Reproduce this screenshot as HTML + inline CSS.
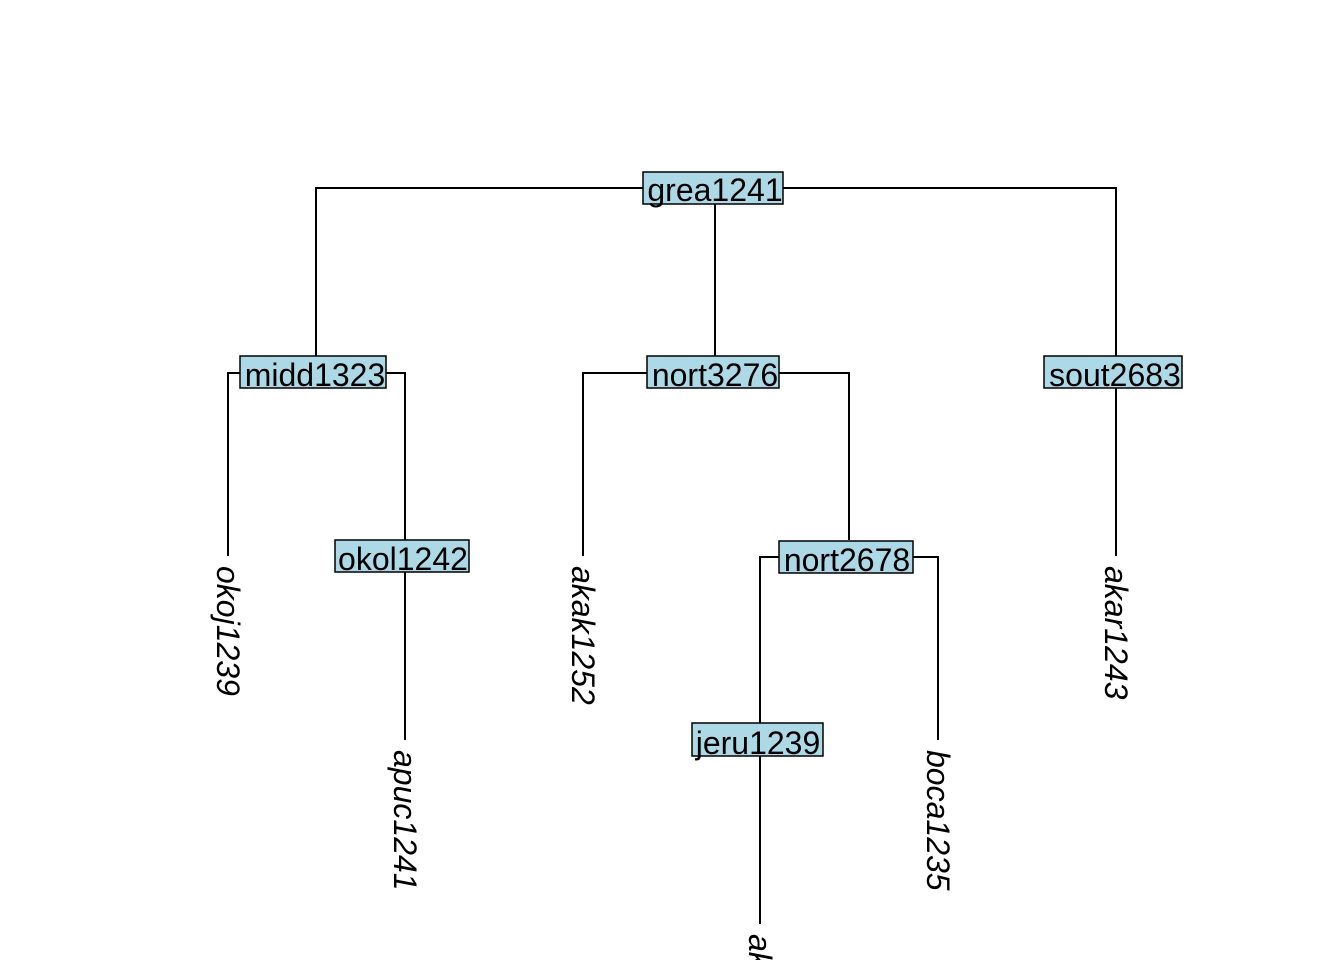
<!DOCTYPE html>
<html><head><style>html,body{margin:0;padding:0;background:#fff;overflow:hidden;width:1344px;height:960px}svg{display:block}</style></head><body>
<svg width="1344" height="960" xmlns="http://www.w3.org/2000/svg" font-family="Liberation Sans, sans-serif" font-size="32">
<g stroke="#000" stroke-width="2" fill="none">
<path d="M316 356V188H1116V356M715 188V356"/>
<path d="M228 556V373H405V540"/>
<path d="M405 572V740"/>
<path d="M583 556V373H849V540"/>
<path d="M760 723V557H938V740"/>
<path d="M760 756V924"/>
<path d="M1116 388V556"/>
</g>
<g fill="#add8e6" stroke="#000" stroke-width="1.5">
<rect x="643" y="172" width="140" height="32"/>
<rect x="240" y="356" width="146" height="32"/>
<rect x="647" y="356" width="132" height="32"/>
<rect x="1044" y="356" width="138" height="32"/>
<rect x="335" y="540" width="134" height="32"/>
<rect x="779" y="541" width="134" height="32"/>
<rect x="692" y="723" width="131" height="33"/>
</g>
<g fill="#000" text-anchor="middle">
<text x="715" y="201">grea1241</text>
<text x="315" y="386">midd1323</text>
<text x="715" y="386">nort3276</text>
<text x="1115" y="386">sout2683</text>
<text x="403" y="570">okol1242</text>
<text x="847" y="571">nort2678</text>
<text x="758" y="754">jeru1239</text>
</g>
<g fill="#000" font-style="italic">
<text transform="translate(228,566) rotate(90)" dy="0.35em">okoj1239</text>
<text transform="translate(405,750) rotate(90)" dy="0.35em">apuc1241</text>
<text transform="translate(583,566) rotate(90)" dy="0.35em">akak1252</text>
<text transform="translate(938,750) rotate(90)" dy="0.35em">boca1235</text>
<text transform="translate(1116,566) rotate(90)" dy="0.35em">akar1243</text>
<text transform="translate(760,934) rotate(90)" dy="0.35em">akuu1241</text>
</g>
</svg>
</body></html>
